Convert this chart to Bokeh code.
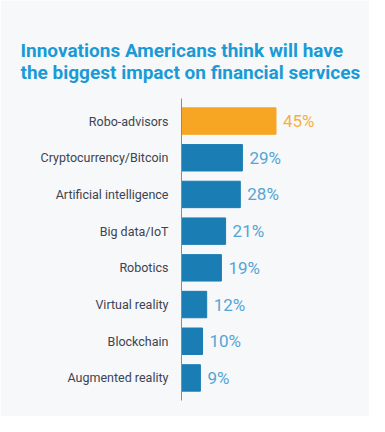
from bokeh.plotting import figure
from bokeh.models import ColumnDataSource, FactorRange, Range1d, LabelSet, Title
from bokeh.core.properties import value
from bokeh.embed import file_html
from bokeh.resources import INLINE

categories = ["Robo-advisors", "Cryptocurrency/Bitcoin", "Artificial intelligence",
              "Big data/IoT", "Robotics", "Virtual reality", "Blockchain", "Augmented reality"]
values = [45, 29, 28, 21, 19, 12, 10, 9]
value_labels = ["45%", "29%", "28%", "21%", "19%", "12%", "10%", "9%"]
title_lines = ["Innovations Americans think will have",
               "the biggest impact on financial services"]

BG = "#f7f8fa"
bar_colors = ["#f6a623"] + ["#1a7db3"] * (len(categories) - 1)
text_colors = ["#f6b040"] + ["#55a5d3"] * (len(categories) - 1)

src = ColumnDataSource(dict(cat=categories, val=values, lab=value_labels,
                            bc=bar_colors, tc=text_colors))

p = figure(width=369, height=416, output_backend="svg", toolbar_location=None,
           y_range=FactorRange(factors=list(reversed(categories)),
                               range_padding=0.115, range_padding_units="absolute"),
           x_range=Range1d(0, 80),
           min_border_left=181, min_border_right=20, min_border_top=98, min_border_bottom=16,
           background_fill_color=BG, border_fill_color=BG, outline_line_color=None)

p.title.text = "\n".join(title_lines)
p.title.text_font = "Roboto"
p.title.text_font_size = "19px"
p.title.text_font_style = "bold"
p.title.text_color = "#1a9ad6"
p.title.align = "left"
p.title.offset = -161
p.title.text_line_height = 0.96

# invisible spacer between the title and the plot frame
p.add_layout(Title(text=" ", text_font_size="1px", standoff=6), "above")

p.hbar(y="cat", right="val", left=0, height=0.72, color="bc", source=src)

labels = LabelSet(x="val", y="cat", text="lab", source=src, x_offset=7,
                  text_align="left", text_baseline="middle", text_color="tc",
                  text_font_size="17px", text_font=value("Roboto"))
p.add_layout(labels)

p.xaxis.visible = False
p.xgrid.grid_line_color = None
p.ygrid.grid_line_color = None
p.yaxis.axis_line_color = "#8a8a8a"
p.yaxis.axis_line_width = 1
p.yaxis.major_tick_line_color = None
p.yaxis.minor_tick_line_color = None
p.yaxis.major_label_standoff = 7
p.yaxis.major_label_text_font = "Roboto"
p.yaxis.major_label_text_font_size = "12.5px"
p.yaxis.major_label_text_color = "#3d4450"

open("out.html", "w").write(file_html(p, INLINE))
